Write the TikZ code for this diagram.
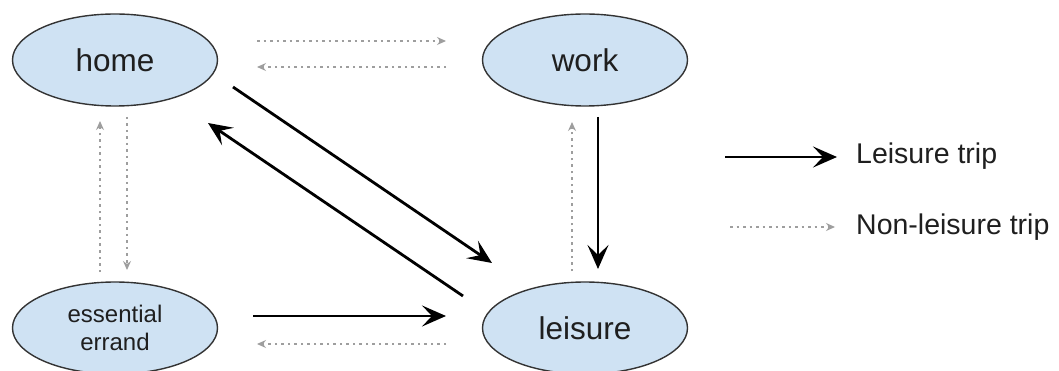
\documentclass[tikz,border=0pt]{standalone}
\usepackage{fontspec}
\setmainfont{Liberation Sans}
\usetikzlibrary{shapes.geometric,arrows.meta,calc}
\definecolor{nodefill}{HTML}{CFE2F3}
\definecolor{nodeline}{HTML}{333333}
\definecolor{nlgray}{HTML}{9E9E9E}
\tikzset{
  place/.style={ellipse, draw=nodeline, line width=1.4pt, fill=nodefill,
    minimum width=205pt, minimum height=92pt, inner sep=0pt,
    font=\fontsize{31.5}{36}\selectfont, text=black!88},
  leis/.style={line width=2.8pt, black, -{Stealth[length=24pt,width=21pt,inset=10pt]}},
  nonleis/.style={line width=1.3pt, nlgray, dash pattern=on 2.5pt off 4pt,
    -{Stealth[length=9pt,width=8pt,inset=3pt]}},
  legtext/.style={anchor=base west, inner sep=0pt, font=\fontsize{28.5}{34}\selectfont, text=black!88}
}
\begin{document}
\begin{tikzpicture}[x=1pt,y=-1pt]
\useasboundingbox (0,0) rectangle (1059,371);
\node[place] (home) at (115,60) {home};
\node[place] (work) at (585,60) {work};
\node[place, align=center, font=\fontsize{24}{28}\selectfont] (errand) at (115,328) {essential\\errand};
\node[place] (leisure) at (585,328) {leisure};
% non-leisure (dotted)
\draw[nonleis] ($(home.center)+(142,-19)$) -- ($(work.center)+(-139,-19)$);
\draw[nonleis] ($(work.center)+(-139,7)$) -- ($(home.center)+(142,7)$);
\draw[nonleis] ($(errand.center)+(-15,-56)$) -- ($(home.center)+(-15,61)$);
\draw[nonleis] ($(home.center)+(12,57)$) -- ($(errand.center)+(12,-58)$);
\draw[nonleis] ($(leisure.center)+(-13,-57)$) -- ($(work.center)+(-13,62)$);
\draw[nonleis] ($(leisure.center)+(-139,16)$) -- ($(errand.center)+(142,16)$);
% leisure (solid)
\draw[leis] ($(work.center)+(13,57)$) -- ($(leisure.center)+(13,-59)$);
\draw[leis] ($(home.center)+(118,27)$) -- ($(leisure.center)+(-93,-65)$);
\draw[leis] ($(leisure.center)+(-122,-32)$) -- ($(home.center)+(93,63)$);
\draw[leis] ($(errand.center)+(138,-12)$) -- ($(leisure.center)+(-139,-12)$);
% legend
\coordinate (la1) at (725,157);
\coordinate (la2) at (837,157);
\coordinate (lb1) at (730,227);
\coordinate (lb2) at (835,227);
\draw[leis] (la1) -- (la2);
\draw[nonleis] (lb1) -- (lb2);
\node[legtext] (lta) at (856,164) {Leisure trip};
\node[legtext] (ltb) at (856,235) {Non-leisure trip};
\end{tikzpicture}
\end{document}
